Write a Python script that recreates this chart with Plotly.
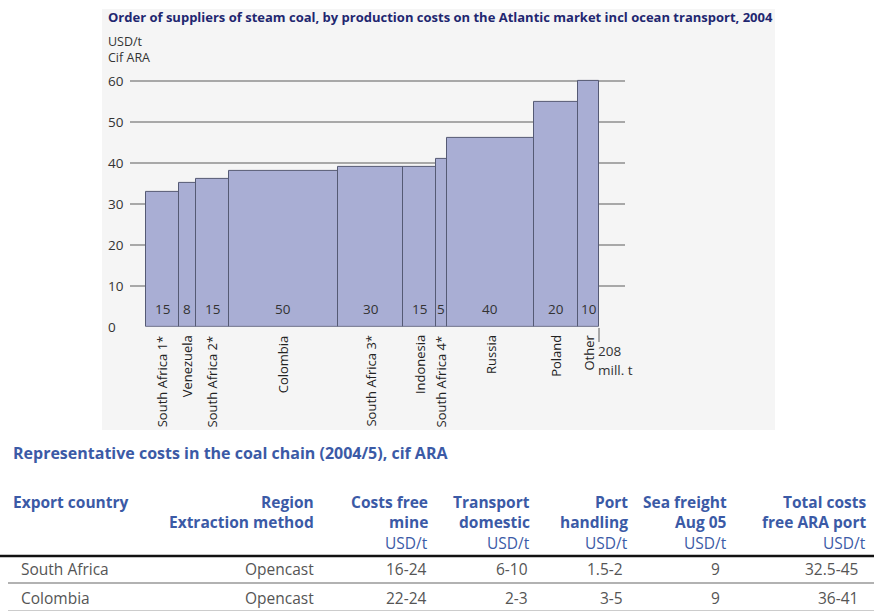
import plotly.graph_objects as go

W, H = 874, 611

# ---- chart data ----
suppliers = ["South Africa 1*", "Venezuela", "South Africa 2*", "Colombia", "South Africa 3*",
             "Indonesia", "South Africa 4*", "Russia", "Poland", "Other"]
volumes = [15, 8, 15, 50, 30, 15, 5, 40, 20, 10]          # mill. t
costs = [33, 35, 36, 38, 39, 39, 41, 46, 55, 60]           # USD/t cif ARA
y_ticks = [0, 10, 20, 30, 40, 50, 60]
total_volume = 208

# ---- table data ----
table_title = "Representative costs in the coal chain (2004/5), cif ARA"
header_line1 = ["Export country", "Region", "Costs free", "Transport", "Port", "Sea freight", "Total costs"]
header_line2 = ["", "Extraction method", "mine", "domestic", "handling", "Aug 05", "free ARA port"]
header_units = ["", "", "USD/t", "USD/t", "USD/t", "USD/t", "USD/t"]
row_south_africa = ["South Africa", "Opencast", "16-24", "6-10", "1.5-2", "9", "32.5-45"]
row_colombia = ["Colombia", "Opencast", "22-24", "2-3", "3-5", "9", "36-41"]
table_rows = [row_south_africa, row_colombia]

FONT = "Open Sans"
def px(x):
    return x / W
def py(y):
    return 1 - y / H

# bar centres from cumulative volumes
centers = []
acc = 0
for v in volumes:
    centers.append(acc + v / 2)
    acc += v

fig = go.Figure()
fig.add_trace(go.Bar(
    x=centers, y=costs, width=volumes,
    marker=dict(color="#a9aed4", line=dict(color="#555a74", width=1)),
    hoverinfo="skip", showlegend=False,
))

ann = []
# title
ann.append(dict(x=px(106), y=py(17), xref="paper", yref="paper", xanchor="left", yanchor="middle",
                text="<b>Order of suppliers of steam coal, by production costs on the Atlantic market incl ocean transport, 2004</b>",
                showarrow=False, font=dict(family=FONT, size=13, color="#1f2770")))
ann.append(dict(x=px(106), y=py(50), xref="paper", yref="paper", xanchor="left", yanchor="middle",
                text="USD/t<br>Cif ARA", align="left", showarrow=False,
                font=dict(family=FONT, size=12.5, color="#333")))
# y tick labels (left aligned)
for t in y_ticks:
    ann.append(dict(x=px(106), y=t, xref="paper", yref="y", xanchor="left", yanchor="middle",
                    text=str(t), showarrow=False, font=dict(family=FONT, size=13.5, color="#333")))
# volume labels inside bars + supplier names below
for c, v, s in zip(centers, volumes, suppliers):
    ann.append(dict(x=c, y=4.3, xref="x", yref="y", text=str(v), showarrow=False,
                    font=dict(family=FONT, size=13.5, color="#333")))
    ann.append(dict(x=c, y=py(333), xref="x", yref="paper", text=s, textangle=-90, showarrow=False,
                    xanchor="center", yanchor="top", font=dict(family=FONT, size=13, color="#222")))
ann.append(dict(x=total_volume, y=py(351), xref="x", yref="paper", xanchor="left", yanchor="middle",
                text="208", showarrow=False, xshift=-3,
                font=dict(family=FONT, size=13.5, color="#333")))
ann.append(dict(x=total_volume, y=py(370), xref="x", yref="paper", xanchor="left", yanchor="middle",
                text="mill. t", showarrow=False, xshift=-3,
                font=dict(family=FONT, size=13.5, color="#333")))

# ---- table ----
ann.append(dict(x=px(11), y=py(453), xref="paper", yref="paper", xanchor="left", yanchor="middle",
                text="<b>" + table_title + "</b>", showarrow=False,
                font=dict(family=FONT, size=16, color="#3b5aa6")))
head_right = [None, 316, 430, 532, 630, 729, 868]
data_right = [None, 316, 429, 530, 625, 722, 860]
for i in range(7):
    if i == 0:
        xa, xx = "left", px(11)
    else:
        xa, xx = "right", px(head_right[i])
    for txt, yy, bold in ((header_line1[i], 502, True), (header_line2[i], 522, True), (header_units[i], 543, False)):
        if not txt:
            continue
        ann.append(dict(x=xx, y=py(yy), xref="paper", yref="paper", xanchor=xa, yanchor="middle",
                        text=("<b>%s</b>" % txt) if bold else txt, showarrow=False,
                        font=dict(family=FONT, size=15.5, color="#3b5aa6")))
row_y = [569, 598]
for r, yy in zip(table_rows, row_y):
    ann.append(dict(x=px(19), y=py(yy), xref="paper", yref="paper", xanchor="left", yanchor="middle",
                    text=r[0], showarrow=False, font=dict(family=FONT, size=15.5, color="#555")))
    for j in range(1, 7):
        ann.append(dict(x=px(data_right[j]), y=py(yy), xref="paper", yref="paper", xanchor="right",
                        yanchor="middle", text=r[j], showarrow=False,
                        font=dict(family=FONT, size=15.5, color="#555")))

shapes = [
    dict(type="rect", xref="paper", yref="paper", x0=px(102), x1=px(775), y0=py(430), y1=py(9),
         fillcolor="#f5f5f5", line=dict(width=0), layer="below"),
    dict(type="line", xref="paper", yref="paper", x0=0, x1=1, y0=py(556), y1=py(556),
         line=dict(color="#111", width=2.5)),
    dict(type="line", xref="paper", yref="paper", x0=px(8), x1=1, y0=py(583), y1=py(583),
         line=dict(color="#999", width=1.5)),
    dict(type="line", xref="paper", yref="paper", x0=px(8), x1=1, y0=py(610.5), y1=py(610.5),
         line=dict(color="#ccc", width=1)),
]

fig.update_layout(
    width=W, height=H, margin=dict(l=0, r=0, t=0, b=0),
    paper_bgcolor="white", plot_bgcolor="rgba(0,0,0,0)",
    xaxis=dict(domain=[px(130), px(625)], range=[-7.3, 219.7], showgrid=False, zeroline=False,
               showline=False, tickvals=[total_volume], ticktext=[""], ticks="outside",
               ticklen=14, tickwidth=1.5, tickcolor="#a8a8a8", fixedrange=True),
    yaxis=dict(domain=[py(326.7), py(76.9)], range=[0, 61], tickvals=y_ticks, showticklabels=False,
               showgrid=True, gridcolor="#a8a8a8", gridwidth=1.5, zeroline=False, showline=False,
               fixedrange=True),
    annotations=ann, shapes=shapes, bargap=0,
)
fig.write_html("out.html", config={"displayModeBar": False},
               post_script="document.body.style.margin='0px';document.body.style.overflow='hidden';")
